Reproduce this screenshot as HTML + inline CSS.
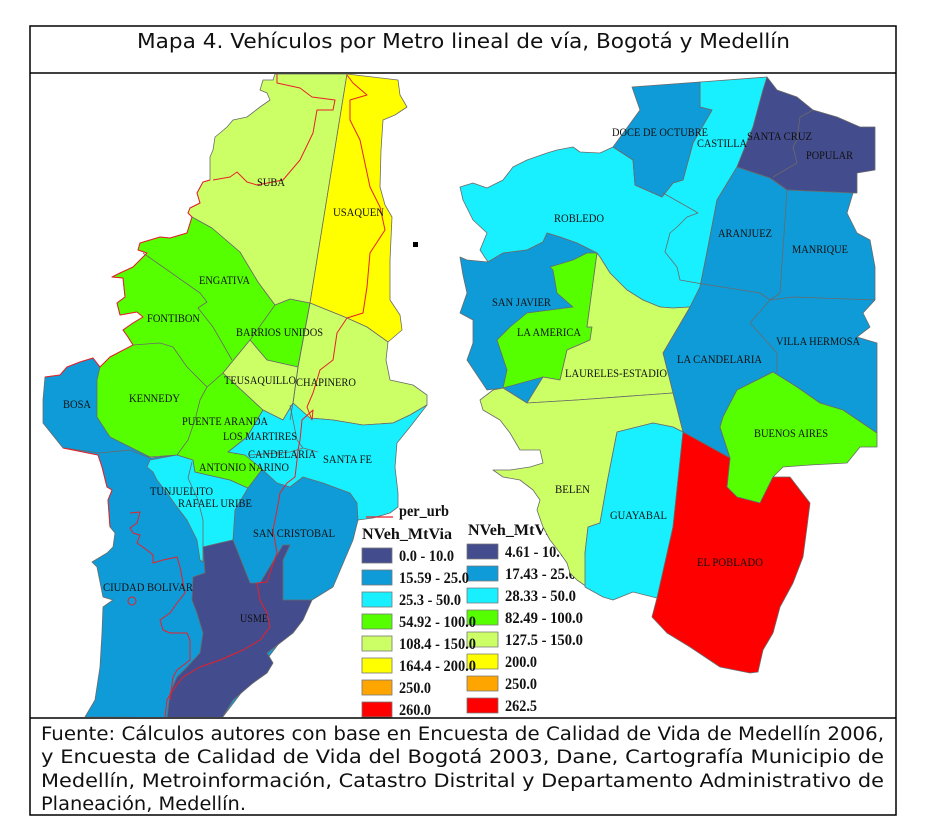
<!DOCTYPE html>
<html><head><meta charset="utf-8"><style>
html,body{margin:0;padding:0;background:#fff;}
svg{display:block;}
</style></head><body>
<svg width="939" height="840" viewBox="0 0 939 840" xmlns="http://www.w3.org/2000/svg">
<rect width="939" height="840" fill="#fff"/>
<defs><clipPath id="mc"><rect x="31" y="74" width="864" height="643"/></clipPath></defs>
<g clip-path="url(#mc)" stroke="#6a6a6a" stroke-width="0.8" stroke-linejoin="round">
<!-- BOGOTA -->
<!-- blue SW base -->
<polygon fill="#0E9BD8" points="45,377 60,375 67,367 80,362 93,358 100,368 150,440 150,458 177,455 200,460 240,470 265,470 280,480 300,475 330,470 358,480 358,520 353,540 333,587 312,600 222,718 85,717 95,700 100,667 102,633 103,607 113,600 103,597 97,567 92,562 107,553 113,547 115,533 110,527 108,500 112,490 107,487 102,467 98,455 63,448 43,423 43,400"/>
<!-- cyan Tunjuelito / R.Uribe -->
<polygon fill="#19F0FF" points="150,460 177,455 193,460 195,472 230,480 248,488 235,510 233,540 220,543 203,547 203,562 200,560 197,540 187,520 177,507 167,493 157,480 153,472 147,467"/>
<!-- navy Usme -->
<polygon fill="#434C8C" points="220,543 233,540 250,583 260,583 283,545 290,545 283,560 283,600 312,600 303,620 293,633 280,643 267,653 273,663 267,673 253,683 233,700 222,718 167,718 170,693 177,677 187,667 200,653 203,633 197,613 192,600 193,577 205,573 203,547"/>
<!-- green big -->
<polygon fill="#55FF00" points="192,217 212,228 240,252 258,282 275,305 290,299 310,303 298,367 267,360 250,340 223,373 263,410 247,437 228,452 245,455 263,468 248,488 230,480 195,472 193,460 177,455 150,457 110,437 97,417 97,380 100,367 110,357 133,345 128,337 123,330 133,323 143,317 137,312 120,315 117,303 125,297 123,278 112,277 120,273 133,267 147,253 138,250 140,243 160,237 170,238 187,233"/>
<!-- Suba -->
<polygon fill="#CCFF66" points="275,74 347,74 310,303 290,299 275,305 258,282 240,252 212,228 192,217 188,213 190,208 200,203 197,193 203,182 210,180 210,157 213,150 215,137 220,133 227,127 233,120 247,117 260,107 270,100 267,93 260,90 263,80 273,80"/>
<!-- Usaquen -->
<polygon fill="#FFFF00" points="347,74 398,80 400,95 407,107 395,115 383,120 381,150 380,187 385,205 392,217 390,260 390,300 400,315 402,330 388,342 367,327 347,318 310,303"/>
<!-- Chapinero -->
<polygon fill="#CCFF66" points="310,303 347,318 367,327 388,342 386,360 390,380 413,385 427,395 427,405 410,415 393,423 363,425 333,420 310,418 293,403 298,367"/>
<!-- Teusaquillo -->
<polygon fill="#CCFF66" points="250,340 267,360 298,367 293,403 283,420 263,410 223,373"/>
<!-- cyan central -->
<polygon fill="#19F0FF" points="263,410 283,420 293,403 310,418 333,420 363,425 393,423 410,415 427,405 410,427 397,443 395,467 398,493 398,507 390,513 373,518 358,520 357,503 350,493 323,483 303,477 290,487 277,483 263,470 245,455 228,452 247,437"/>
<!-- internal gray lines -->
<g fill="none">
<polyline points="143,253 200,293 207,302 198,308 213,327 232,360"/>
<polyline points="133,345 160,343 173,347 187,367 207,387 223,373"/>
<polyline points="207,387 200,400 195,420 188,440 177,455"/>
<polyline points="275,305 250,340"/>
<polyline points="310,303 298,367 293,403 290,420"/>
<polyline points="65,448 100,453 130,450 150,458"/>
<polyline points="192,462 188,478 198,500 203,520 203,547"/>
<polyline points="290,405 297,440 303,448 318,452"/>
<polyline points="250,455 290,452 303,448"/>
</g>
<!-- red per_urb lines -->
<g fill="none" stroke="#E8202A" stroke-width="1">
<polyline points="213,180 230,177 237,172 247,182 257,185 283,180 300,160 313,133 317,110 333,110 335,100 312,97 300,88 277,83 277,74"/>
<polyline points="347,75 353,83 367,95 350,100 350,120 360,140 370,187 380,207 385,230 370,253 367,287 363,313 347,318 337,333 333,360 320,370 313,393 307,407 312,420 313,410 302,420 300,440 298,450 297,460 295,477 287,483 280,493 277,510 273,530 277,553 272,567 267,582 257,583 260,600 267,613 270,627 260,640 243,650 220,660 200,667 183,677 173,690 167,700 165,717"/>
<polyline points="130,513 140,512 137,523 130,528 133,533 140,535 137,543 147,550 153,555 153,563 163,560 177,557 180,567 185,593 177,603 170,613 160,620 163,630 170,633 187,633 190,640 190,660 177,670 173,677 170,700"/>
<circle cx="132" cy="601" r="4"/>
<polyline points="210,180 203,182 197,193 200,203 190,208 188,213 192,217 187,233 170,238 160,237 140,243 138,250 147,253 133,267 120,273 112,277 123,278 125,297 117,303 120,315 137,312 143,317 133,323 123,330 128,337 133,345 110,357 100,367 93,358 80,362 67,367 60,375 45,377"/>
<polyline points="63,448 98,455 102,467 107,487 112,490 108,500 110,527"/>
</g>
<!-- MEDELLIN legend (drawn under Medellin map) -->
<g stroke="#777" stroke-width="0.8">
<rect x="467" y="544" width="31" height="15" fill="#434C8C"/>
<rect x="467" y="566" width="31" height="15" fill="#0E9BD8"/>
<rect x="467" y="588" width="31" height="15" fill="#19F0FF"/>
<rect x="467" y="610" width="31" height="15" fill="#55FF00"/>
<rect x="467" y="632" width="31" height="15" fill="#CCFF66"/>
<rect x="467" y="654" width="31" height="15" fill="#FFFF00"/>
<rect x="467" y="676" width="31" height="15" fill="#FFA500"/>
<rect x="467" y="698" width="31" height="15" fill="#FF0000"/>
</g>
<g font-family="Liberation Serif, serif" font-weight="bold" font-size="16" fill="#111" stroke="none" lengthAdjust="spacingAndGlyphs">
<text x="468" y="535" textLength="90" lengthAdjust="spacingAndGlyphs">NVeh_MtVia</text>
<text x="505" y="557" textLength="62" lengthAdjust="spacingAndGlyphs">4.61 - 10.0</text>
<text x="505" y="579" textLength="71" lengthAdjust="spacingAndGlyphs">17.43 - 25.0</text>
<text x="505" y="601" textLength="71" lengthAdjust="spacingAndGlyphs">28.33 - 50.0</text>
<text x="505" y="623" textLength="78" lengthAdjust="spacingAndGlyphs">82.49 - 100.0</text>
<text x="505" y="645" textLength="78" lengthAdjust="spacingAndGlyphs">127.5 - 150.0</text>
<text x="505" y="667" textLength="32" lengthAdjust="spacingAndGlyphs">200.0</text>
<text x="505" y="689" textLength="32" lengthAdjust="spacingAndGlyphs">250.0</text>
<text x="505" y="711" textLength="32" lengthAdjust="spacingAndGlyphs">262.5</text>
</g>
<!-- MEDELLIN map -->
<polygon fill="#19F0FF" points="460,187 473,183 487,188 503,180 513,167 527,160 547,153 557,150 573,147 580,152 600,153 613,147 633,160 635,185 662,197 673,183 683,180 693,143 712,110 700,107 700,82 767,77 763,90 753,127 737,167 717,200 708,247 700,287 690,307 673,308 660,307 643,300 627,290 610,273 600,257 597,253 577,243 560,237 547,233 543,242 527,250 503,253 488,262 480,250 487,233 473,220 463,200"/>
<polygon fill="#0E9BD8" points="632,87 700,82 700,107 712,110 693,143 683,180 673,183 662,197 635,185 633,160 613,147 640,110"/>
<polygon fill="#434C8C" points="767,77 777,90 797,97 813,110 837,117 860,127 875,127 875,170 857,173 857,193 853,193 787,190 770,178 737,167 753,127 763,90"/>
<polygon fill="#0E9BD8" points="737,167 770,178 787,190 853,193 847,213 857,233 870,240 875,267 875,300 863,313 870,327 857,337 877,343 877,433 843,410 820,403 797,387 773,372 737,390 723,417 720,427 730,458 683,432 673,393 663,353 690,307 700,287 708,247 717,200"/>
<polygon fill="#55FF00" points="737,390 773,372 797,387 820,403 843,410 877,433 877,447 860,447 847,463 810,465 783,467 773,477 760,503 737,497 727,487 730,458 720,427 723,417"/>
<polygon fill="#0E9BD8" points="460,257 467,260 488,262 503,253 527,250 543,242 547,233 560,237 577,243 597,253 587,327 592,327 590,340 567,350 560,380 527,403 503,388 487,390 467,360 473,343 473,320 460,313 467,293 463,275"/>
<polygon fill="#55FF00" points="550,267 573,260 587,253 597,253 587,327 592,327 590,340 567,350 560,380 543,377 503,388 507,370 497,340 510,327 527,313 573,307 557,293 553,270"/>
<polygon fill="#CCFF66" points="597,253 600,257 610,273 627,290 643,300 660,307 673,308 690,307 663,353 673,393 577,400 527,403 543,377 560,380 567,350 590,340 592,327 587,327"/>
<polygon fill="#CCFF66" points="493,390 503,388 527,403 577,400 673,393 683,432 673,427 653,423 617,432 607,483 600,523 588,527 585,553 587,587 577,580 570,573 567,563 560,553 550,540 543,527 537,510 540,500 533,490 520,480 503,477 493,470 510,470 530,467 543,463 540,450 520,450 510,433 500,420 483,410 480,400"/>
<polygon fill="#19F0FF" points="617,432 653,423 673,427 683,432 673,527 657,598 633,592 613,600 603,597 585,587 585,553 588,527 600,523 607,483"/>
<polygon fill="#FF0000" points="683,432 730,458 727,487 737,497 760,503 773,477 790,477 800,490 810,503 807,527 803,557 793,583 780,607 773,633 763,650 758,672 750,673 720,667 690,647 667,633 652,617 657,598 673,527"/>
<g fill="none">
<polyline points="663,193 693,210 698,213 687,217 677,227 670,233 665,252 677,267 680,280 697,283 760,293 770,300"/>
<polyline points="787,190 780,293 770,300 793,297 875,300"/>
<polyline points="770,300 750,323 777,353 777,372"/>
<polyline points="813,110 800,117 797,140 793,147 797,163 773,177"/>
</g>
</g>
<!-- Bogota legend -->
<line x1="366" y1="517" x2="393" y2="517" stroke="#E8202A" stroke-width="1.2"/>
<g stroke="#777" stroke-width="0.8">
<rect x="362" y="548" width="30" height="15" fill="#434C8C"/>
<rect x="362" y="570" width="30" height="15" fill="#0E9BD8"/>
<rect x="362" y="592" width="30" height="15" fill="#19F0FF"/>
<rect x="362" y="614" width="30" height="15" fill="#55FF00"/>
<rect x="362" y="636" width="30" height="15" fill="#CCFF66"/>
<rect x="362" y="658" width="30" height="15" fill="#FFFF00"/>
<rect x="362" y="680" width="30" height="15" fill="#FFA500"/>
<rect x="362" y="702" width="30" height="15" fill="#FF0000"/>
</g>
<g font-family="Liberation Serif, serif" font-weight="bold" font-size="16" fill="#111">
<text x="399" y="516" textLength="50" lengthAdjust="spacingAndGlyphs">per_urb</text>
<text x="362" y="539" textLength="90" lengthAdjust="spacingAndGlyphs">NVeh_MtVia</text>
<text x="399" y="561" textLength="55" lengthAdjust="spacingAndGlyphs">0.0 - 10.0</text>
<text x="399" y="583" textLength="70" lengthAdjust="spacingAndGlyphs">15.59 - 25.0</text>
<text x="399" y="605" textLength="62" lengthAdjust="spacingAndGlyphs">25.3 - 50.0</text>
<text x="399" y="627" textLength="77" lengthAdjust="spacingAndGlyphs">54.92 - 100.0</text>
<text x="399" y="649" textLength="77" lengthAdjust="spacingAndGlyphs">108.4 - 150.0</text>
<text x="399" y="671" textLength="77" lengthAdjust="spacingAndGlyphs">164.4 - 200.0</text>
<text x="399" y="693" textLength="32" lengthAdjust="spacingAndGlyphs">250.0</text>
<text x="399" y="715" textLength="32" lengthAdjust="spacingAndGlyphs">260.0</text>
</g>
<!-- map labels -->
<g font-family="Liberation Serif, serif" font-size="12" fill="#111">
<text x="257" y="186" textLength="28" lengthAdjust="spacingAndGlyphs">SUBA</text>
<text x="333" y="216" textLength="51" lengthAdjust="spacingAndGlyphs">USAQUEN</text>
<text x="199" y="284" textLength="51" lengthAdjust="spacingAndGlyphs">ENGATIVA</text>
<text x="147" y="322" textLength="53" lengthAdjust="spacingAndGlyphs">FONTIBON</text>
<text x="236" y="336" textLength="87" lengthAdjust="spacingAndGlyphs">BARRIOS UNIDOS</text>
<text x="224" y="384" textLength="72" lengthAdjust="spacingAndGlyphs">TEUSAQUILLO</text>
<text x="296" y="386" textLength="60" lengthAdjust="spacingAndGlyphs">CHAPINERO</text>
<text x="129" y="402" textLength="51" lengthAdjust="spacingAndGlyphs">KENNEDY</text>
<text x="63" y="408" textLength="28" lengthAdjust="spacingAndGlyphs">BOSA</text>
<text x="182" y="425" textLength="86" lengthAdjust="spacingAndGlyphs">PUENTE ARANDA</text>
<text x="223" y="440" textLength="74" lengthAdjust="spacingAndGlyphs">LOS MARTIRES</text>
<text x="248" y="458" textLength="68" lengthAdjust="spacingAndGlyphs">CANDELARIA</text>
<text x="323" y="463" textLength="49" lengthAdjust="spacingAndGlyphs">SANTA FE</text>
<text x="199" y="471" textLength="90" lengthAdjust="spacingAndGlyphs">ANTONIO NARINO</text>
<text x="150" y="495" textLength="63" lengthAdjust="spacingAndGlyphs">TUNJUELITO</text>
<text x="178" y="507" textLength="74" lengthAdjust="spacingAndGlyphs">RAFAEL URIBE</text>
<text x="253" y="537" textLength="82" lengthAdjust="spacingAndGlyphs">SAN CRISTOBAL</text>
<text x="103" y="591" textLength="90" lengthAdjust="spacingAndGlyphs">CIUDAD BOLIVAR</text>
<text x="240" y="622" textLength="28" lengthAdjust="spacingAndGlyphs">USME</text>
<text x="612" y="136" textLength="96" lengthAdjust="spacingAndGlyphs">DOCE DE OCTUBRE</text>
<text x="697" y="147" textLength="50" lengthAdjust="spacingAndGlyphs">CASTILLA</text>
<text x="747" y="140" textLength="65" lengthAdjust="spacingAndGlyphs">SANTA CRUZ</text>
<text x="806" y="159" textLength="47" lengthAdjust="spacingAndGlyphs">POPULAR</text>
<text x="554" y="222" textLength="50" lengthAdjust="spacingAndGlyphs">ROBLEDO</text>
<text x="718" y="237" textLength="54" lengthAdjust="spacingAndGlyphs">ARANJUEZ</text>
<text x="792" y="253" textLength="56" lengthAdjust="spacingAndGlyphs">MANRIQUE</text>
<text x="492" y="306" textLength="59" lengthAdjust="spacingAndGlyphs">SAN JAVIER</text>
<text x="517" y="336" textLength="64" lengthAdjust="spacingAndGlyphs">LA AMERICA</text>
<text x="776" y="345" textLength="84" lengthAdjust="spacingAndGlyphs">VILLA HERMOSA</text>
<text x="677" y="363" textLength="85" lengthAdjust="spacingAndGlyphs">LA CANDELARIA</text>
<text x="565" y="377" textLength="102" lengthAdjust="spacingAndGlyphs">LAURELES-ESTADIO</text>
<text x="754" y="437" textLength="74" lengthAdjust="spacingAndGlyphs">BUENOS AIRES</text>
<text x="555" y="493" textLength="35" lengthAdjust="spacingAndGlyphs">BELEN</text>
<text x="610" y="519" textLength="57" lengthAdjust="spacingAndGlyphs">GUAYABAL</text>
<text x="697" y="566" textLength="66" lengthAdjust="spacingAndGlyphs">EL POBLADO</text>
</g>
<rect x="413" y="242" width="5" height="5" fill="#000"/>
<!-- frame -->
<g fill="none" stroke="#000" stroke-width="1.5">
<rect x="30" y="26" width="866" height="789"/>
<line x1="30" y1="73" x2="896" y2="73"/>
<line x1="30" y1="718" x2="896" y2="718"/>
</g>
<text x="137" y="48" font-family="DejaVu Sans, Verdana, sans-serif" font-size="20" fill="#111" textLength="653" lengthAdjust="spacingAndGlyphs">Mapa 4. Vehículos por Metro lineal de vía, Bogotá y Medellín</text>
<g font-family="DejaVu Sans, Verdana, sans-serif" font-size="18.5" fill="#111">
<text x="41" y="740" textLength="843" lengthAdjust="spacingAndGlyphs">Fuente: Cálculos autores con base en Encuesta de Calidad de Vida de Medellín 2006,</text>
<text x="41" y="763" textLength="843" lengthAdjust="spacingAndGlyphs">y Encuesta de Calidad de Vida del Bogotá 2003, Dane, Cartografía Municipio de</text>
<text x="41" y="787" textLength="843" lengthAdjust="spacingAndGlyphs">Medellín, Metroinformación, Catastro Distrital y Departamento Administrativo de</text>
<text x="41" y="810" textLength="205" lengthAdjust="spacingAndGlyphs">Planeación, Medellín.</text>
</g>
</svg>
</body></html>
